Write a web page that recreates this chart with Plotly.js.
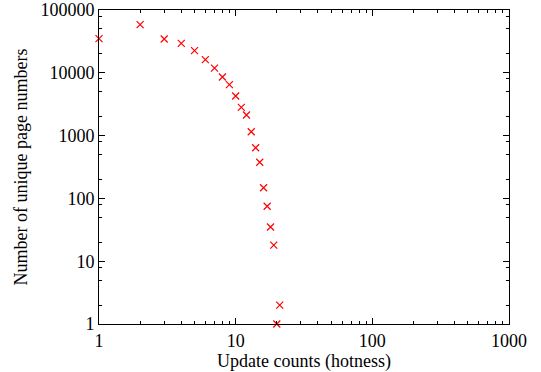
<!DOCTYPE html>
<html>
<head>
<meta charset="utf-8">
<script src="https://cdn.plot.ly/plotly-3.0.1.min.js"></script>
<style>html,body{margin:0;padding:0;background:#fff;}#chart{width:541px;height:372px;}</style>
</head>
<body>
<div id="chart"></div>
<script>
// Update count (hotness)
const hotness = [1, 2, 3, 4, 5, 6, 7, 8, 9, 10, 11, 12, 13, 14, 15, 16, 17, 18, 19, 20, 21];
// Number of unique page numbers
const pageCounts = [35000, 58500, 34500, 29500, 22500, 16200, 11900, 8570, 6470, 4270, 2820, 2130, 1150, 641, 376, 148, 75, 35, 18, 1, 2];

const xTickVals = [1, 10, 100, 1000];
const xTickText = ['1', '10', '100', '1000'];
const yTickVals = [1, 10, 100, 1000, 10000, 100000];
const yTickText = ['1', '10', '100', '1000', '10000', '100000'];
const yMinorDigits = [2, 5, 8];

const yMinorVals = [];
for (let k = 0; k < 5; k++) yMinorDigits.forEach(d => yMinorVals.push(d * Math.pow(10, k)));

const font = {family: 'Liberation Serif', size: 18, color: '#000'};

const trace = {
  x: hotness, y: pageCounts, type: 'scatter', mode: 'markers',
  cliponaxis: false,
  marker: {symbol: 'x-thin-open', size: 7, color: '#ff0000', line: {color: '#ff0000', width: 1.2}},
  showlegend: false
};

const layout = {
  width: 541, height: 372,
  margin: {l: 99, r: 32, t: 10, b: 48},
  paper_bgcolor: '#fff', plot_bgcolor: '#fff',
  font: font,
  xaxis: {
    type: 'log', range: [0, 3],
    tickmode: 'array', tickvals: xTickVals, ticktext: xTickText,
    ticks: 'inside', ticklen: 6, tickwidth: 1, tickcolor: '#000',
    minor: {dtick: 'D1', ticks: 'inside', ticklen: 3, tickwidth: 1, tickcolor: '#000', showgrid: false},
    showline: true, linecolor: '#000', linewidth: 1, mirror: 'allticks',
    showgrid: false, zeroline: false,
    tickfont: font,
    title: {text: 'Update counts (hotness)', font: font, standoff: 1}
  },
  yaxis: {
    type: 'log', range: [0, 5],
    tickmode: 'array', tickvals: yTickVals, ticktext: yTickText,
    ticks: 'inside', ticklen: 6, tickwidth: 1, tickcolor: '#000',
    minor: {tickmode: 'array', tickvals: yMinorVals, ticks: 'inside', ticklen: 3, tickwidth: 1, tickcolor: '#000', showgrid: false},
    showline: true, linecolor: '#000', linewidth: 1, mirror: 'allticks',
    showgrid: false, zeroline: false,
    tickfont: font,
    title: {text: 'Number of unique page numbers', font: font, standoff: 8}
  }
};

Plotly.newPlot('chart', [trace], layout, {displayModeBar: false, staticPlot: true});
</script>
</body>
</html>
